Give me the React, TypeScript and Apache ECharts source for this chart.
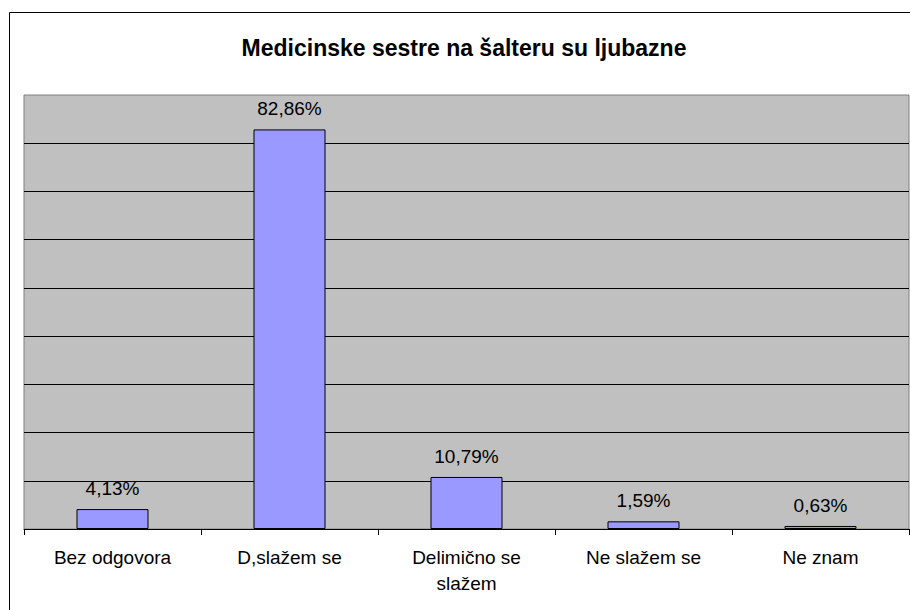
import React, { useEffect, useRef } from "react";
import * as echarts from "echarts";

const TITLE = "Medicinske sestre na šalteru su ljubazne";
const categories = ["Bez odgovora", "D,slažem se", "Delimično se\nslažem", "Ne slažem se", "Ne znam"];
const values = [4.13, 82.86, 10.79, 1.59, 0.63];
const yMin = 0;
const yMax = 90;
const yInterval = 10;

const FONT = "'Liberation Sans', Arial, sans-serif";

export default function App() {
  const ref = useRef<HTMLDivElement>(null);
  useEffect(() => {
    if (!ref.current) return;
    const chart = echarts.init(ref.current, null, { renderer: "svg" });
    chart.setOption({
      animation: false,
      backgroundColor: "#ffffff",
      textStyle: { fontFamily: FONT },
      graphic: [
        {
          type: "rect",
          shape: { x: 9.5, y: 12.5, width: 1000, height: 1000 },
          style: { fill: "none", stroke: "#000000", lineWidth: 1 },
          silent: true,
          z: 100,
        },
        {
          type: "text",
          x: 464,
          y: 48,
          style: {
            text: TITLE,
            fontFamily: FONT,
            fontSize: 23,
            fontWeight: "bold",
            fill: "#000000",
            textAlign: "center",
            textVerticalAlign: "middle",
          },
        },
      ],
      grid: {
        left: 24,
        right: 1,
        top: 95,
        bottom: 81,
        show: true,
        backgroundColor: "#C0C0C0",
        borderColor: "#808080",
        borderWidth: 1,
      },
      xAxis: {
        type: "category",
        data: categories,
        boundaryGap: true,
        axisLine: { show: true, lineStyle: { color: "#000000", width: 1 } },
        axisTick: { show: true, length: 6, lineStyle: { color: "#000000" } },
        axisLabel: {
          color: "#000000",
          fontFamily: FONT,
          fontSize: 19,
          lineHeight: 26,
          margin: 15,
          interval: 0,
        },
      },
      yAxis: {
        type: "value",
        min: yMin,
        max: yMax,
        interval: yInterval,
        axisLine: { show: false },
        axisTick: { show: false },
        axisLabel: { show: false },
        splitLine: { show: true, showMaxLine: false, lineStyle: { color: "#000000", width: 1 } },
      },
      series: [
        {
          type: "bar",
          data: values,
          barWidth: 72,
          itemStyle: { color: "#9999FF", borderColor: "#000000", borderWidth: 1 },
          label: {
            show: true,
            position: "top",
            distance: 11,
            color: "#000000",
            fontFamily: FONT,
            fontSize: 19,
            formatter: (p: any) => p.value.toFixed(2).replace(".", ",") + "%",
          },
        },
      ],
    });
    return () => chart.dispose();
  }, []);
  return <div ref={ref} style={{ position: "fixed", left: 0, top: 0, width: 910, height: 610 }} />;
}
